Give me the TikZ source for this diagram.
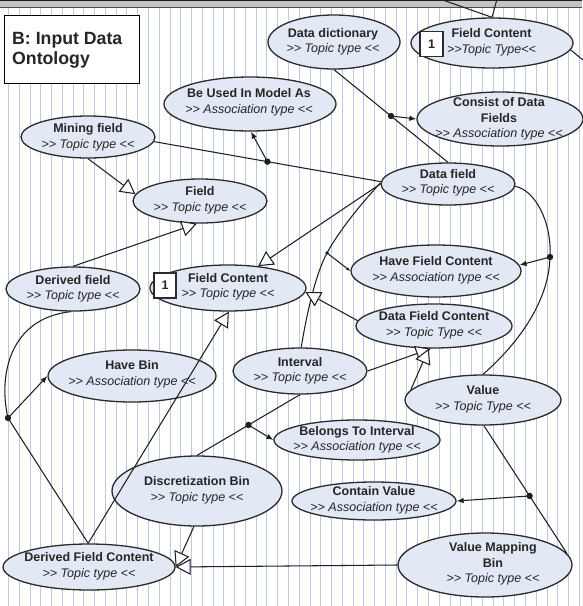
\documentclass[tikz,border=0pt]{standalone}
\usepackage{fontspec}
\setmainfont{Liberation Sans}
\usetikzlibrary{shapes.geometric,arrows.meta,calc}
\definecolor{ellf}{HTML}{E2E8F4}
\definecolor{ellc}{HTML}{2B2B2B}
\definecolor{linec}{HTML}{1F1F1F}
\definecolor{txtc}{HTML}{262626}
\definecolor{stripec}{HTML}{B9C9E6}
\definecolor{bandc}{HTML}{C4C4C4}
\newcommand\tgg{>\kern0pt>}
\newcommand\tll{<\kern0pt<}
\tikzset{
  topic/.style={ellipse, draw=ellc, line width=1.3pt, fill=ellf, inner sep=0pt},
  ttext/.style={align=center, text=txtc, font=\fontsize{12.5}{15.5}\selectfont, inner sep=0pt},
  conn/.style={draw=linec, line width=1.05pt},
  gen/.style={conn, -{Triangle[length=15pt,width=16pt,fill=white]}},
  assoc/.style={conn, -{Latex[length=7pt,width=5.5pt]}},
  assocs/.style={conn, -{Latex[length=4pt,width=3.5pt]}},
  onebox/.style={draw=ellc, line width=1.1pt, fill=white, minimum width=23pt, minimum height=25pt, inner sep=0pt, text=txtc, font=\bfseries\fontsize{12.5}{14}\selectfont},
  stripe/.style={draw=stripec, line width=1pt}
}
\begin{document}
\begin{tikzpicture}[x=1pt,y=-1pt]
\useasboundingbox (0,0) rectangle (582,606);
\fill[white] (0,0) rectangle (582,606);
% stripes
\foreach \i in {0,...,53} \draw[stripe] ({8.5+10.77*\i},8) -- ({8.5+10.77*\i},606);
% top band
\fill[bandc] (0,0) rectangle (582,7);
\draw[linec, line width=1pt] (0,0.6) -- (582,0.6);
\draw[linec!80, line width=1pt] (0,7) -- (582,7);

% title
\node[draw=black, line width=1.3pt, fill=white, minimum width=135pt, minimum height=68pt, anchor=north west, inner sep=0pt] (tbox) at (4,15) {};
\node[anchor=base west, inner sep=0pt, text=txtc, font=\bfseries\fontsize{17.7}{20}\selectfont] (tl1) at (12,44) {B: Input Data};
\node[anchor=base west, inner sep=0pt, text=txtc, font=\bfseries\fontsize{17.7}{20}\selectfont] (tl2) at (12,64) {Ontology};

% ellipses
\node[topic, minimum width=132pt, minimum height=54pt] (dd) at (334,42) {};
\node[topic, minimum width=162pt, minimum height=50pt] (fct) at (492,43) {};
\node[topic, minimum width=172pt, minimum height=54pt] (bu) at (250,104) {};
\node[topic, minimum width=166pt, minimum height=54pt] (cd) at (500,119) {};
\node[topic, minimum width=134pt, minimum height=42pt] (mf) at (88,137) {};
\node[topic, minimum width=134pt, minimum height=42pt] (df) at (448,184) {};
\node[topic, minimum width=134pt, minimum height=44pt] (fi) at (200,201) {};
\node[topic, minimum width=134pt, minimum height=44pt] (dfd) at (73,289) {};
\node[topic, minimum width=156pt, minimum height=46pt] (fc) at (228,288) {};
\node[topic, minimum width=170pt, minimum height=52pt] (hfc) at (436,271) {};
\node[topic, minimum width=156pt, minimum height=44pt] (dfc) at (434,326) {};
\node[topic, minimum width=168pt, minimum height=52pt] (hb) at (132,376) {};
\node[topic, minimum width=134pt, minimum height=46pt] (iv) at (300,371) {};
\node[topic, minimum width=156pt, minimum height=50pt] (va) at (483,400) {};
\node[topic, minimum width=166pt, minimum height=40pt] (bti) at (357,440) {};
\node[topic, minimum width=170pt, minimum height=70pt] (db) at (197,491) {};
\node[topic, minimum width=164pt, minimum height=38pt] (cv) at (374,501) {};
\node[topic, minimum width=172pt, minimum height=46pt] (dfcn) at (89,567) {};
\node[topic, minimum width=174pt, minimum height=64pt] (vmb) at (485,565) {};

% texts
\node[ttext] (ddt) at (333,42) {\textbf{Data dictionary}\\\textit{\tgg\ Topic type \tll}};
\node[ttext] (fctt) at (491.5,42.5) {\textbf{Field Content}\\\textit{\tgg Topic Type\tll}};
\node[ttext] (but) at (249,102.5) {\textbf{Be Used In Model As}\\\textit{\tgg\ Association type \tll}};
\node[ttext] (cdt) at (499,119) {\textbf{Consist of Data}\\\textbf{Fields}\\\textit{\tgg\ Association type \tll}};
\node[ttext] (mft) at (88,137.5) {\textbf{Mining field}\\\textit{\tgg\ Topic type \tll}};
\node[ttext] (dft) at (448,183) {\textbf{Data field}\\\textit{\tgg\ Topic type \tll}};
\node[ttext] (fit) at (200,200.5) {\textbf{Field}\\\textit{\tgg\ Topic type \tll}};
\node[ttext] (dfdt) at (73,289) {\textbf{Derived field}\\\textit{\tgg\ Topic type \tll}};
\node[ttext] (fctx) at (228,287) {\textbf{Field Content}\\\textit{\tgg\ Topic type \tll}};
\node[ttext] (hfct) at (436,270.5) {\textbf{Have Field Content}\\\textit{\tgg\ Association type \tll}};
\node[ttext] (dfct) at (434,325.5) {\textbf{Data Field Content}\\\textit{\tgg\ Topic Type \tll}};
\node[ttext] (hbt) at (132,374.5) {\textbf{Have Bin}\\\textit{\tgg\ Association type \tll}};
\node[ttext] (ivt) at (300,371) {\textbf{Interval}\\\textit{\tgg\ Topic type \tll}};
\node[ttext] (vat) at (483,399.5) {\textbf{Value}\\\textit{\tgg\ Topic Type \tll}};
\node[ttext] (btit) at (357,440) {\textbf{Belongs To Interval}\\\textit{\tgg\ Association type \tll}};
\node[ttext] (dbt) at (197,490.5) {\textbf{Discretization Bin}\\\textit{\tgg\ Topic type \tll}};
\node[ttext] (cvt) at (374,500.5) {\textbf{Contain Value}\\\textit{\tgg\ Association type \tll}};
\node[ttext] (dfcnt) at (89,566.5) {\textbf{Derived Field Content}\\\textit{\tgg\ Topic type \tll}};
\node[ttext] (vmbt) at (493,564) {\textbf{Value Mapping}\\\textbf{Bin}\hspace*{16pt}\\\textit{\tgg\ Topic type \tll}};

% "1" boxes
\node[onebox] (b1) at (431.5,44) {1};
\node[onebox, minimum width=22pt] (b2) at (165,285.5) {1};

% connectors
\coordinate (o1) at (440,-1);
\coordinate (o2) at (497,-1);
\coordinate (o3) at (583,60);
\draw[conn] (o1) -- (fct.north);
\draw[conn] (o2) -- (fct.north);
\draw[conn] (fct.-5) -- (o3);

\draw[gen] (mf.south) -- (fi.174);
\draw[gen] (dfd.north) -- (fi.262);
\draw[gen] (df.180) -- (fc.36);

\draw[conn] (mf.-4) -- coordinate[pos=0.5] (j1) (df.178);
\draw[assoc] (j1) -- (bu.-88);

\draw[conn] (dd.south) -- coordinate[pos=0.5] (j2) (df.north);
\draw[assoc] (j2) -- (cd.west);

\coordinate (j3) at (550,257);
\draw[conn] (df.-2) .. controls (535,190) and (552,222) .. (j3) .. controls (549,300) and (520,342) .. (va.north);
\draw[assoc] (j3) -- (hfc.4);

\coordinate (j4) at (327,253);
\draw[conn] (iv.87) .. controls (306,318) and (315,275) .. (j4) .. controls (339,231) and (360,205) .. (df.179);
\draw[assocs] (j4) -- (hfc.west);

\draw[gen] (dfc.176) -- (fc.-3);
\draw[gen] (iv.east) -- (dfc.262);
\draw[gen] (va.172) -- (dfc.257);

\draw[conn] (iv.south) -- coordinate[pos=0.5] (j5) (db.north);
\draw[assoc] (j5) -- (bti.west);

\draw[gen] (db.-95) -- (dfcn.east);
\draw[gen] (vmb.west) -- (dfcn.east);

\draw[conn] (va.-88) -- coordinate[pos=0.55] (j6) (vmb.8);
\draw[assoc] (j6) -- (cv.east);

\coordinate (j7) at (8,418);
\draw[conn] (dfd.-95) .. controls (10,318) and (-2,375) .. (j7) -- (dfcn.92);
\draw[assoc] (j7) -- (hb.west);

\draw[gen] (dfcn.92) -- (fc.-88);

% junction dots
\foreach \c in {j1,j2,j3,j5,j6,j7} \fill[linec] (\c) circle[radius=3.2pt];
\fill[linec] (j4) circle[radius=1.8pt];
\end{tikzpicture}
\end{document}
